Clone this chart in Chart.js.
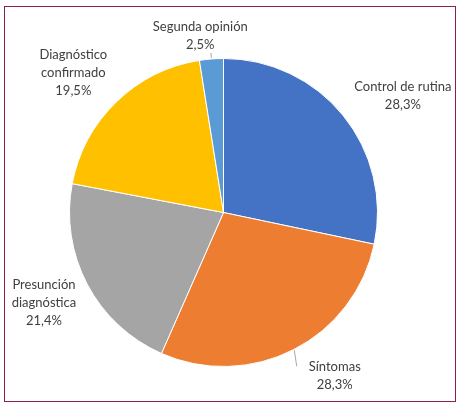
<!DOCTYPE html>
<html>
<head>
<meta charset="utf-8">
<script src="https://cdn.jsdelivr.net/npm/chart.js@4.4.0/dist/chart.umd.min.js"></script>
<style>
  html, body { margin: 0; padding: 0; background: #fff; }
  #wrap { position: relative; width: 461px; height: 407px; }
  #frame { position: absolute; left: 4px; top: 6px; width: 450px; height: 394px; border: 1.5px solid #8c1f52; pointer-events: none; }
</style>
</head>
<body>
<div id="wrap">
  <canvas id="myChart" width="461" height="407"></canvas>
  <div id="frame"></div>
</div>
<script>
const categories = ["Control de rutina", "Síntomas", "Presunción diagnóstica", "Diagnóstico confirmado", "Segunda opinión"];
const values = [28.3, 28.3, 21.4, 19.5, 2.5];
const colors = ["#4472c4", "#ed7d31", "#a5a5a5", "#ffc000", "#5b9bd5"];
// how each label is split on lines
const labelLines = [["Control de rutina"], ["Síntomas"], ["Presunción", "diagnóstica"], ["Diagnóstico", "confirmado"], ["Segunda opinión"]];
// label placement: distance beyond radius, angle tweak (deg)
const labelDist = [60, 44, 47, 51, 24];
const labelTurn = [6, -7, 1, -3, -3];

const fmt = v => v.toFixed(1).replace(".", ",") + "%";

const outsideLabels = {
  id: "outsideLabels",
  afterDatasetsDraw(chart) {
    const ctx = chart.ctx;
    const meta = chart.getDatasetMeta(0);
    ctx.save();
    ctx.font = "13px Lato";
    ctx.fillStyle = "#404040";
    ctx.textAlign = "center";
    ctx.textBaseline = "middle";
    meta.data.forEach((arc, i) => {
      const mid = (arc.startAngle + arc.endAngle) / 2 + labelTurn[i] * Math.PI / 180;
      const d = arc.outerRadius + labelDist[i];
      const x = arc.x + Math.cos(mid) * d;
      const y = arc.y + Math.sin(mid) * d;
      const lines = labelLines[i].concat([fmt(values[i])]);
      const lh = 18;
      const y0 = y - (lines.length - 1) * lh / 2;
      lines.forEach((t, k) => ctx.fillText(t, x, y0 + k * lh));
      // leader lines
      if (i === 1 || i === 4) {
        const m0 = (arc.startAngle + arc.endAngle) / 2;
        ctx.strokeStyle = "#a6a6a6";
        ctx.lineWidth = 1;
        ctx.beginPath();
        if (i === 1) {
          ctx.moveTo(arc.x + Math.cos(m0) * (arc.outerRadius + 1), arc.y + Math.sin(m0) * (arc.outerRadius + 1));
          ctx.lineTo(x - 38, y - 10);
        } else {
          ctx.moveTo(arc.x + Math.cos(m0) * (arc.outerRadius + 1), arc.y + Math.sin(m0) * (arc.outerRadius + 1));
          ctx.lineTo(arc.x + Math.cos(m0) * (arc.outerRadius + 6), arc.y + Math.sin(m0) * (arc.outerRadius + 6));
        }
        ctx.stroke();
      }
    });
    ctx.restore();
  }
};

new Chart(document.getElementById("myChart"), {
  type: "pie",
  data: {
    labels: categories,
    datasets: [{
      data: values,
      backgroundColor: colors,
      borderColor: "#ffffff",
      borderWidth: 1
    }]
  },
  options: {
    responsive: false,
    animation: false,
    layout: { padding: { left: 69, right: 83, top: 58, bottom: 40 } },
    plugins: {
      legend: { display: false },
      tooltip: { enabled: false }
    }
  },
  plugins: [outsideLabels]
});
</script>
</body>
</html>
